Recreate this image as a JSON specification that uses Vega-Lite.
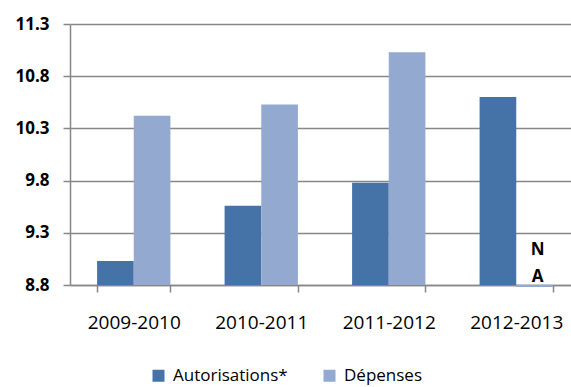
{
  "$schema": "https://vega.github.io/schema/vega-lite/v6.json",
  "width": 501,
  "height": 261,
  "autosize": {"type": "none"},
  "padding": {"left": 70, "top": 24, "right": 0, "bottom": 102},
  "background": "white",
  "config": {
    "view": {"stroke": null},
    "font": "Open Sans"
  },
  "data": {
    "values": [
      {"annee": "2009-2010", "serie": "Autorisations*", "valeur": 9.03},
      {"annee": "2009-2010", "serie": "Dépenses", "valeur": 10.42},
      {"annee": "2010-2011", "serie": "Autorisations*", "valeur": 9.56},
      {"annee": "2010-2011", "serie": "Dépenses", "valeur": 10.53},
      {"annee": "2011-2012", "serie": "Autorisations*", "valeur": 9.78},
      {"annee": "2011-2012", "serie": "Dépenses", "valeur": 11.03},
      {"annee": "2012-2013", "serie": "Autorisations*", "valeur": 10.6},
      {"annee": "2012-2013", "serie": "Dépenses", "valeur": 8.78, "etiquette": "N A"}
    ]
  },
  "encoding": {
    "x": {
      "field": "annee",
      "type": "nominal",
      "sort": null,
      "title": null,
      "scale": {"range": [0, 510], "paddingInner": 0.425, "paddingOuter": 0.2125},
      "axis": {
        "labelAngle": 0,
        "labelFontSize": 19,
        "labelColor": "#000000",
        "labelPadding": 21,
        "domainColor": "#878787",
        "domainWidth": 1.5,
        "tickColor": "#878787",
        "tickWidth": 1.5,
        "tickSize": 7,
        "tickBand": "extent",
        "grid": false
      }
    },
    "xOffset": {"field": "serie", "type": "nominal", "sort": ["Autorisations*", "Dépenses"]}
  },
  "layer": [
    {
      "mark": {"type": "bar"},
      "encoding": {
        "y": {
          "field": "valeur",
          "type": "quantitative",
          "title": null,
          "scale": {"domain": [8.8, 11.3], "zero": false, "nice": false},
          "axis": {
            "values": [8.8, 9.3, 9.8, 10.3, 10.8, 11.3],
            "format": ".1f",
            "labelFontSize": 17,
            "labelFontWeight": "bold",
            "labelColor": "#000000",
            "labelPadding": 14,
            "domainColor": "#878787",
            "domainWidth": 1.5,
            "tickColor": "#878787",
            "tickWidth": 1.5,
            "tickSize": 7,
            "gridColor": "#878787",
            "gridWidth": 1.5
          }
        },
        "y2": {"datum": 8.8},
        "color": {
          "field": "serie",
          "type": "nominal",
          "sort": ["Autorisations*", "Dépenses"],
          "scale": {"range": ["#4572a7", "#94a9d0"]},
          "legend": {
            "title": null,
            "orient": "none",
            "direction": "horizontal",
            "legendX": 80,
            "legendY": 343,
            "symbolType": "square",
            "symbolSize": 144,
            "symbolStrokeWidth": 0,
            "symbolOffset": 0,
            "labelOffset": 6,
            "labelFontSize": 17,
            "labelColor": "#000000",
            "columnPadding": 33
          }
        }
      }
    },
    {
      "transform": [{"filter": "datum.etiquette"}],
      "mark": {
        "type": "text",
        "fontWeight": "bold",
        "fontSize": 17,
        "lineBreak": " ",
        "lineHeight": 27,
        "baseline": "alphabetic",
        "dy": -30,
        "dx": 3,
        "color": "#000000"
      },
      "encoding": {
        "y": {"datum": 8.8},
        "text": {"field": "etiquette"}
      }
    }
  ]
}
